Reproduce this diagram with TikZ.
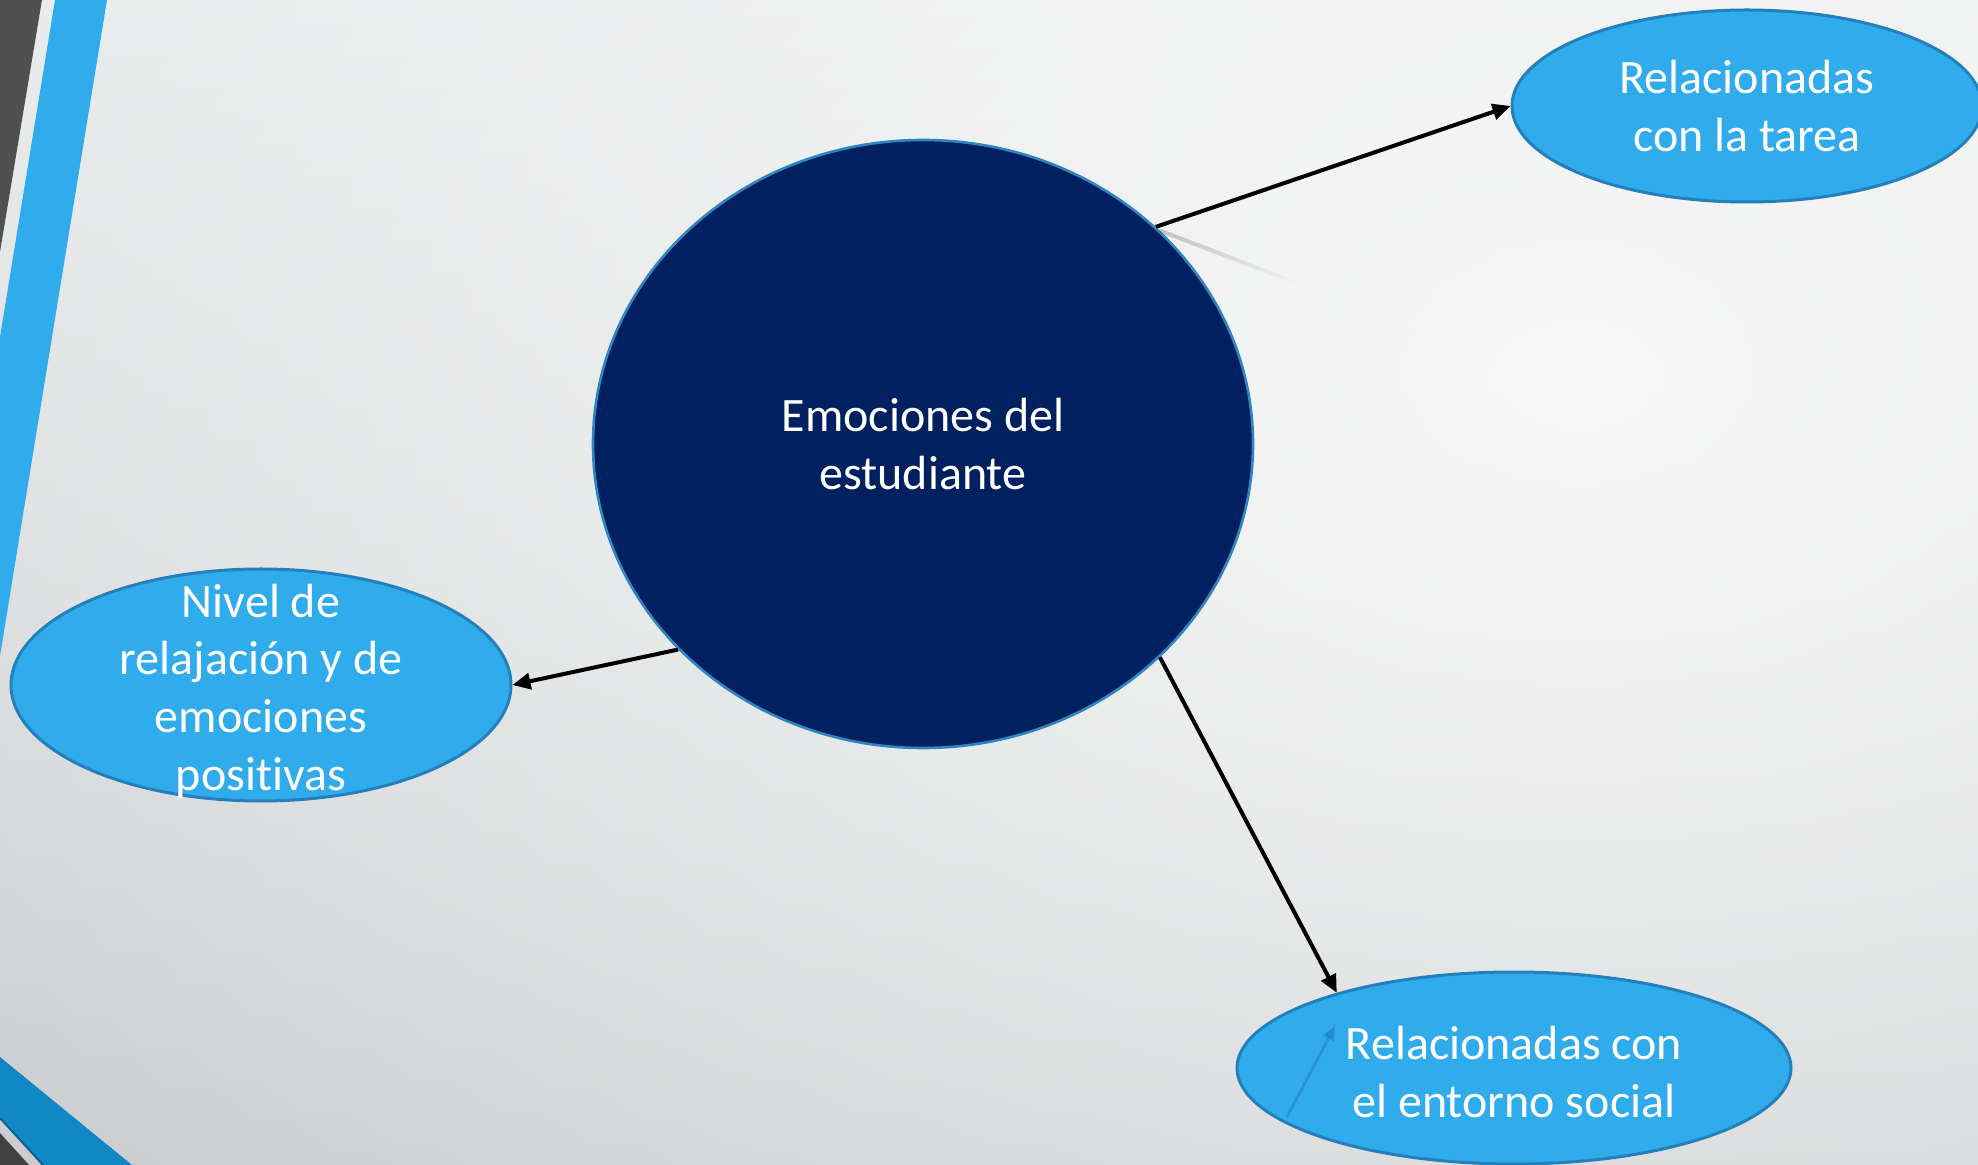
\documentclass[tikz,border=0pt]{standalone}
\usepackage{fontspec}
\setmainfont{Carlito}[Ligatures=NoCommon]
\usetikzlibrary{shapes.geometric,arrows.meta,fadings}

\definecolor{navy}{RGB}{0,32,96}
\definecolor{hubline}{RGB}{46,134,193}
\definecolor{leafblue}{RGB}{48,172,236}
\definecolor{leafline}{RGB}{36,128,186}
\definecolor{bgtop}{RGB}{228,230,231}
\definecolor{bgbot}{RGB}{192,196,198}
\definecolor{glowgrey}{RGB}{247,247,247}
\definecolor{darkstrip}{RGB}{80,80,80}
\definecolor{bluestrip}{RGB}{48,172,236}
\definecolor{cornerblue}{RGB}{18,135,198}
\definecolor{cornerline}{RGB}{15,95,143}
\definecolor{cornerdark}{RGB}{64,64,64}

\tikzfading[name=glow fade, inner color=transparent!0, outer color=transparent!100]
\tikzfading[name=streak fade, left color=transparent!0, right color=transparent!100]

\begin{document}
\begin{tikzpicture}[x=0.5pt,y=-0.5pt,
hub/.style={ellipse, draw=hubline, line width=1.3pt, fill=navy, minimum width=330pt, minimum height=304pt, inner sep=0pt},
leaf/.style={ellipse, draw=leafline, line width=1.5pt, fill=leafblue, inner sep=0pt},
caption/.style={text=white, align=center, font=\fontsize{24}{28.8}\selectfont},
link/.style={line width=2pt, -{Triangle[length=9pt,width=8pt]}},
]
\useasboundingbox (0,0) rectangle (1978,1165);

% background
\shade[top color=bgtop, bottom color=bgbot] (0,0) rectangle (1978,1165);
\fill[glowgrey, path fading=glow fade] (1577,378) ellipse (2400 and 1600);

% side strips
\fill[darkstrip] (0,0) -- (42,0) -- (0,252) -- cycle;
\fill[bluestrip] (55,0) -- (107,0) -- (0,656) -- (0,337) -- cycle;
\fill[cornerblue] (0,1057) -- (132,1165) -- (43,1165) -- (0,1118) -- cycle;
\draw[cornerline, line width=1pt] (0,1118) -- (43,1165);
\fill[cornerdark] (0,1133) -- (29,1165) -- (0,1165) -- cycle;

% nodes
\node[hub] (emo) at (923,444) {};
\node[leaf, minimum width=235pt, minimum height=96pt] (tarea) at (1747,106) {};
\node[leaf, minimum width=250pt, minimum height=116pt] (relax) at (261,685) {};
\node[leaf, minimum width=277pt, minimum height=96pt] (social) at (1514,1068) {};

\node[caption] (emo-txt) at (emo) {Emociones del\\estudiante};
\node[caption] (tarea-txt) at (tarea) {Relacionadas\\con la tarea};
\node[caption] (relax-txt) at ([yshift=-3pt]relax) {Nivel de\\relajación y de\\emociones\\positivas};
\node[caption] (social-txt) at ([yshift=-2pt]social) {Relacionadas con\\el entorno social};

% faint reflections
\coordinate (streak-a) at (emo.42);
\coordinate (streak-b) at (1297,283);
\draw[black, opacity=0.2, line width=2pt, path fading=streak fade] (streak-a) -- (streak-b);
\coordinate (ghost-a) at (1287,1117);
\coordinate (ghost-b) at (1335,1026);
\draw[leafline, opacity=0.55, line width=1.4pt, -{Triangle[length=7pt,width=6pt]}] (ghost-a) -- (ghost-b);

\path[link]
(emo.43) edge (tarea.west)
(emo.220) edge (relax.east)
(emo.318) edge (social.157)
;
\end{tikzpicture}
\end{document}
